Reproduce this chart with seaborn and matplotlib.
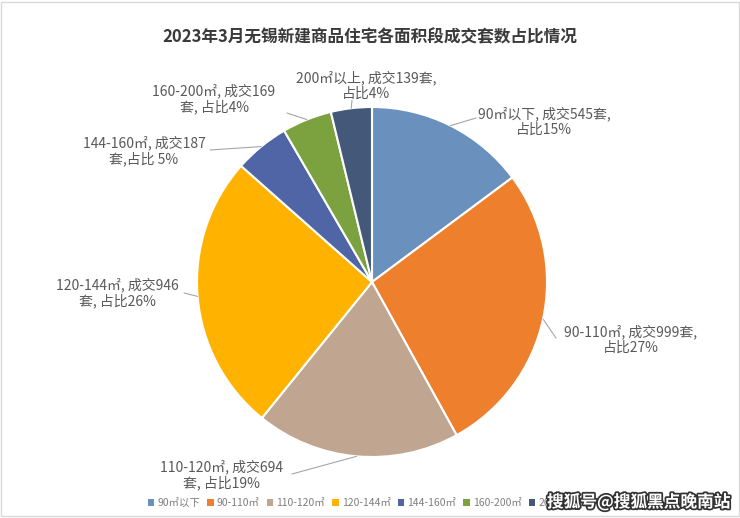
import matplotlib
matplotlib.use("Agg")
import matplotlib.pyplot as plt
import matplotlib.patheffects as pe
from matplotlib.patches import Patch, Rectangle
import numpy as np
import seaborn as sns

# ---- data ----
categories = ["90㎡以下", "90-110㎡", "110-120㎡", "120-144㎡", "144-160㎡", "160-200㎡", "200㎡以上"]
counts = [545, 999, 694, 946, 187, 169, 139]
label_texts = [
    "90㎡以下, 成交545套,\n占比15%",
    "90-110㎡, 成交999套,\n占比27%",
    "110-120㎡, 成交694\n套, 占比19%",
    "120-144㎡, 成交946\n套, 占比26%",
    "144-160㎡, 成交187\n套,占比 5%",
    "160-200㎡, 成交169\n套, 占比4%",
    "200㎡以上, 成交139套,\n占比4%",
]
title = "2023年3月无锡新建商品住宅各面积段成交套数占比情况"
source_mark = "搜狐号@搜狐黑点晚南站"

# ---- style / layout ----
colors = ["#6A90BE", "#EE7F2C", "#C0A590", "#FFB300", "#5065A5", "#7BA23F", "#44597A"]
W, H = 740, 518
CX, CY, R = 372, 282, 175  # pie center/radius in pixels
# label centres in pixels (layout only)
label_pos_px = [(544, 122), (631, 340), (221, 475), (117, 293), (144, 151), (214, 99), (366, 86)]
# leader line end (text side) in pixels
leader_end_px = [(476, 118), (556, 338), (292, 474), (184, 293), (210, 150), (287, 113), (352, 100)]

sns.set_theme(style="white")
plt.rcParams["font.family"] = ["Noto Sans CJK SC", "DejaVu Sans"]

fig = plt.figure(figsize=(W / 100, H / 100), dpi=100)
fig.patch.set_facecolor("white")
ax = fig.add_axes([(CX - R) / W, (H - CY - R) / H, 2 * R / W, 2 * R / H])

wedges, _ = ax.pie(counts, colors=colors, startangle=90, counterclock=False, radius=1.0,
                   wedgeprops=dict(edgecolor="white", linewidth=1.5))
ax.set_xlim(-1, 1)
ax.set_ylim(-1, 1)
ax.set_aspect("equal")
ax.axis("off")


def px2d(px, py):
    return (px - CX) / R, (CY - py) / R


for w, txt, lp, le in zip(wedges, label_texts, label_pos_px, leader_end_px):
    ang = np.deg2rad((w.theta1 + w.theta2) / 2)
    ex, ey = np.cos(ang), np.sin(ang)
    lx, ly = px2d(*le)
    ax.plot([ex, lx], [ey, ly], color="#A6A6A6", lw=0.8, clip_on=False, zorder=1)
    tx, ty = px2d(*lp)
    ax.text(tx, ty, txt, ha="center", va="center", fontsize=10, color="#595959",
            linespacing=1.15, clip_on=False)

fig.text(0.5, 1 - 37 / H, title, ha="center", va="center", fontsize=12,
         fontweight="bold", color="#3A3A3A")

handles = [Patch(facecolor=c, edgecolor="none") for c in colors]
fig.legend(handles, categories, loc="center left", bbox_to_anchor=(148 / W, 1 - 503 / H),
           ncol=7, frameon=False, fontsize=7.5, handlelength=0.6, handleheight=0.6,
           handletextpad=0.3, columnspacing=0.7, labelcolor="#7F7F7F", borderaxespad=0,
           borderpad=0)

fig.text(730 / W, 1 - 502 / H, source_mark, ha="right", va="center", fontsize=12,
         color="white", fontweight="bold", zorder=10,
         path_effects=[pe.withStroke(linewidth=2.5, foreground="#333333")])

fig.add_artist(Rectangle((0.002, 0.004), 0.996, 0.993, transform=fig.transFigure,
                         fill=False, edgecolor="#D9D9D9", linewidth=1))

fig.savefig("out.png", dpi=100, facecolor="white")
